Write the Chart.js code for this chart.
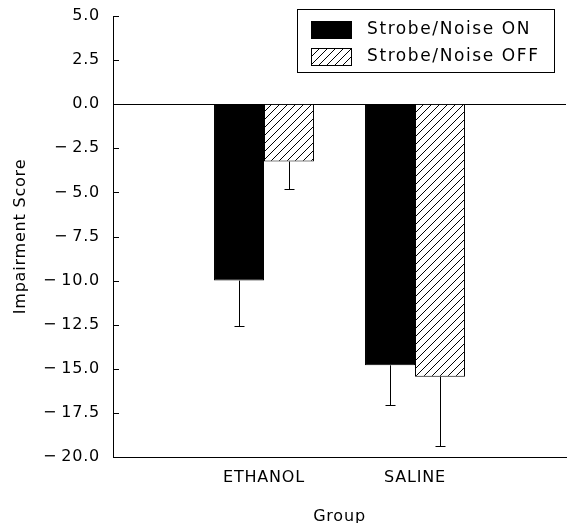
<!DOCTYPE html>
<html>
<head>
<meta charset="utf-8">
<script src="https://cdn.jsdelivr.net/npm/chart.js@4.4.1/dist/chart.umd.min.js"></script>
<style>
  html, body { margin: 0; padding: 0; background: #fff; }
  #wrap { width: 573px; height: 523px; }
</style>
</head>
<body>
<div id="wrap"><canvas id="impairChart" width="573" height="523"></canvas></div>
<script>
// data
const groups = ["", "ETHANOL", "SALINE", ""];
const seriesNames = ["Strobe/Noise ON", "Strobe/Noise OFF"];
const strobeOn = [null, -10.0, -14.8, null];
const strobeOff = [null, -3.25, -15.45, null];
// lower end of the error bars
const strobeOnErr = [null, -12.55, -17.05, null];
const strobeOffErr = [null, -4.8, -19.35, null];
const yTicks = [5, 2.5, 0, -2.5, -5, -7.5, -10, -12.5, -15, -17.5, -20];

const FONT = "'DejaVu Sans', sans-serif";

// diagonal hatch fill
function makeHatch() {
    const c = document.createElement("canvas");
    c.width = 8; c.height = 8;
    const g = c.getContext("2d");
    g.fillStyle = "#fff";
    g.fillRect(0, 0, 8, 8);
    g.strokeStyle = "#000";
    g.lineWidth = 1;
    g.beginPath();
    g.moveTo(0, 8); g.lineTo(8, 0);
    g.moveTo(-1, 1); g.lineTo(1, -1);
    g.moveTo(7, 9); g.lineTo(9, 7);
    g.stroke();
    return g.createPattern(c, "repeat");
}
const hatch = makeHatch();

// error bars, ticks pointing inwards and the boxed legend
const extras = {
    id: "extras",
    beforeInit(chart) {
        chart.ctx.letterSpacing = "0.8px";
    },
    beforeDraw(chart) {
        chart.ctx.letterSpacing = "0.8px";
    },
    afterDatasetsDraw(chart) {
        const ctx = chart.ctx;
        const y = chart.scales.y;
        const area = chart.chartArea;
        ctx.save();
        ctx.strokeStyle = "#000";
        ctx.lineWidth = 1;

        [strobeOnErr, strobeOffErr].forEach((errs, di) => {
            const meta = chart.getDatasetMeta(di);
            meta.data.forEach((bar, i) => {
                if (errs[i] == null) return;
                const x = Math.round(bar.x) + 0.5;
                const yEnd = Math.round(y.getPixelForValue(errs[i])) + 0.5;
                ctx.beginPath();
                ctx.moveTo(x, bar.y);
                ctx.lineTo(x, yEnd);
                ctx.moveTo(x - 5, yEnd);
                ctx.lineTo(x + 5, yEnd);
                ctx.stroke();
            });
        });

        yTicks.forEach(v => {
            const py = Math.round(y.getPixelForValue(v)) + 0.5;
            ctx.beginPath();
            ctx.moveTo(area.left, py);
            ctx.lineTo(area.left + 6, py);
            ctx.stroke();
        });

        // legend box
        const bx = 297.5, by = 9.5, bw = 257, bh = 63;
        ctx.strokeRect(bx, by, bw, bh);
        ctx.font = "17px " + FONT;
        ctx.letterSpacing = "1.6px";
        ctx.textBaseline = "middle";
        ctx.textAlign = "left";
        chart.data.datasets.forEach((ds, i) => {
            const sy = 21 + i * 27;
            ctx.fillStyle = ds.backgroundColor;
            ctx.fillRect(311, sy, 41, 18);
            ctx.strokeRect(311.5, sy + 0.5, 40, 17);
            ctx.fillStyle = "#000";
            ctx.fillText(ds.label, 367, sy + 9);
        });
        ctx.restore();
    }
};

new Chart(document.getElementById("impairChart").getContext("2d"), {
    type: "bar",
    data: {
        labels: groups,
        datasets: [
            {
                label: seriesNames[0],
                data: strobeOn,
                backgroundColor: "#000",
                borderColor: "#000",
                borderWidth: 1
            },
            {
                label: seriesNames[1],
                data: strobeOff,
                backgroundColor: hatch,
                borderColor: "#000",
                borderWidth: 1
            }
        ]
    },
    options: {
        responsive: false,
        animation: false,
        devicePixelRatio: 1,
        layout: { padding: { top: 16, right: 7, left: 0, bottom: 0 } },
        plugins: {
            legend: { display: false },
            tooltip: { enabled: false }
        },
        scales: {
            x: {
                offset: false,
                grid: { display: false, drawTicks: false },
                border: { color: "#000", width: 1 },
                ticks: {
                    color: "#000",
                    font: { family: FONT, size: 16 },
                    padding: 11,
                    maxRotation: 0,
                    autoSkip: false
                },
                title: {
                    display: true,
                    text: "Group",
                    color: "#000",
                    font: { family: FONT, size: 16 },
                    padding: { top: 12, bottom: -3 }
                },
                afterFit(s) {
                    s.height = 66;
                    s.paddingLeft = 0;
                    s.paddingRight = 0;
                }
            },
            y: {
                min: -20,
                max: 5,
                afterBuildTicks(s) { s.ticks = yTicks.map(v => ({ value: v })); },
                grid: {
                    drawTicks: false,
                    color: c => (c.tick && c.tick.value === 0 ? "#000" : "rgba(0,0,0,0)"),
                    lineWidth: 1
                },
                border: { color: "#000", width: 1 },
                ticks: {
                    color: "#000",
                    font: { family: FONT, size: 16 },
                    padding: 13,
                    callback: v => v.toFixed(1).replace("-", "\u2212\u2009")
                },
                title: {
                    display: true,
                    text: "Impairment Score",
                    color: "#000",
                    font: { family: FONT, size: 16 },
                    padding: { top: 11, bottom: 0 }
                },
                afterFit(s) {
                    s.width = 113;
                    s.paddingTop = 0;
                    s.paddingBottom = 0;
                }
            }
        },
        datasets: {
            bar: {
                barPercentage: 1,
                categoryPercentage: 0.662,
                grouped: true
            }
        }
    },
    plugins: [extras]
});
</script>
</body>
</html>
